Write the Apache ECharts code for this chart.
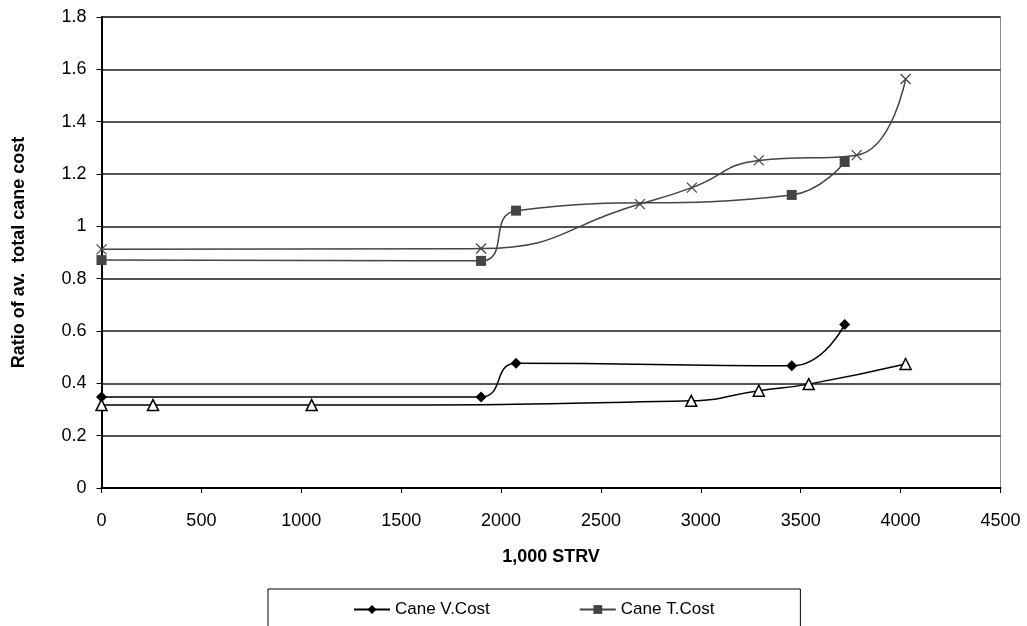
<!DOCTYPE html>
<html>
<head>
<meta charset="utf-8">
<script src="https://cdn.jsdelivr.net/npm/echarts@6/dist/echarts.min.js"></script>
<style>
  html, body { margin: 0; padding: 0; background: #fff; }
  #chart { width: 1027px; height: 626px; }
</style>
</head>
<body>
<div id="chart"></div>
<script>
// values: [STRV (1,000), ratio]
const caneVCost = [[0, 0.348], [1900, 0.348], [2075, 0.477], [3455, 0.467], [3720, 0.625]];
const caneTCost = [[0, 0.871], [1900, 0.868], [2075, 1.06], [3455, 1.12], [3720, 1.246]];
const crossSeries = [[0, 0.912], [1900, 0.915], [2695, 1.085], [2955, 1.148], [3290, 1.252], [3780, 1.272], [4025, 1.563]];
const triangleSeries = [[0, 0.317], [258, 0.317], [1052, 0.317], [2952, 0.333], [3290, 0.372], [3540, 0.397], [4025, 0.474]];

const legendNames = ['Cane V.Cost', 'Cane T.Cost'];
const font = 'Liberation Sans, Arial, sans-serif';

let myChart = echarts.init(document.getElementById('chart'));

myChart.setOption({
    backgroundColor: '#fff',
    animation: false,
    textStyle: { fontFamily: font, color: '#000' },
    grid: { left: 101.5, right: 26.5, top: 17, bottom: 138, show: true, borderColor: '#8c8c8c', borderWidth: 1 },
    legend: {
        data: legendNames,
        left: 268,
        top: 589,
        orient: 'horizontal',
        itemWidth: 36,
        itemHeight: 11,
        itemGap: 89,
        padding: [12, 86, 30, 85],
        borderColor: '#000',
        borderWidth: 1,
        textStyle: { fontFamily: font, fontSize: 17, color: '#000' }
    },
    xAxis: {
        type: 'value',
        min: 0, max: 4500, interval: 500,
        name: '1,000 STRV',
        nameLocation: 'middle',
        nameGap: 60,
        nameTextStyle: { fontWeight: 'bold', fontSize: 18, fontFamily: font, color: '#000' },
        axisLine: { show: true, onZero: false, lineStyle: { color: '#000', width: 2 } },
        axisTick: { show: true, inside: false, length: 5, lineStyle: { color: '#000' } },
        axisLabel: { margin: 24, fontSize: 18, color: '#000', fontFamily: font, formatter: (v) => String(v) },
        splitLine: { show: false }
    },
    yAxis: {
        type: 'value',
        min: 0, max: 1.8, interval: 0.2,
        name: 'Ratio of av.  total cane cost',
        nameLocation: 'middle',
        nameGap: 73,
        nameTextStyle: { fontWeight: 'bold', fontSize: 18, fontFamily: font, color: '#000' },
        axisLine: { show: true, lineStyle: { color: '#000', width: 2 } },
        axisTick: { show: true, inside: false, length: 5, lineStyle: { color: '#000' } },
        axisLabel: {
            margin: 15, fontSize: 18, color: '#000', fontFamily: font,
            formatter: (v) => String(Math.round(v * 10) / 10)
        },
        splitLine: { show: true, lineStyle: { color: '#1a1a1a', width: 1.5 } }
    },
    series: [{
        name: 'Cane V.Cost',
        type: 'line',
        data: caneVCost,
        smooth: 0.5,
        symbol: 'diamond',
        symbolSize: 11,
        itemStyle: { color: '#000' },
        lineStyle: { color: '#000', width: 1.5 }
    }, {
        name: 'Cane T.Cost',
        type: 'line',
        data: caneTCost,
        smooth: 0.5,
        symbol: 'rect',
        symbolSize: 10,
        itemStyle: { color: '#444' },
        lineStyle: { color: '#444', width: 1.5 }
    }, {
        name: 'series3',
        type: 'line',
        data: crossSeries,
        smooth: 0.5,
        symbol: 'path://M0,0L10,10M10,0L0,10',
        symbolSize: 10,
        itemStyle: { color: 'none', borderColor: '#444', borderWidth: 1.3 },
        lineStyle: { color: '#444', width: 1.5 }
    }, {
        name: 'series4',
        type: 'line',
        data: triangleSeries,
        smooth: 0.5,
        symbol: 'triangle',
        symbolSize: 11,
        itemStyle: { color: '#fff', borderColor: '#000', borderWidth: 1.5 },
        lineStyle: { color: '#000', width: 1.5 }
    }]
});
</script>
</body>
</html>
